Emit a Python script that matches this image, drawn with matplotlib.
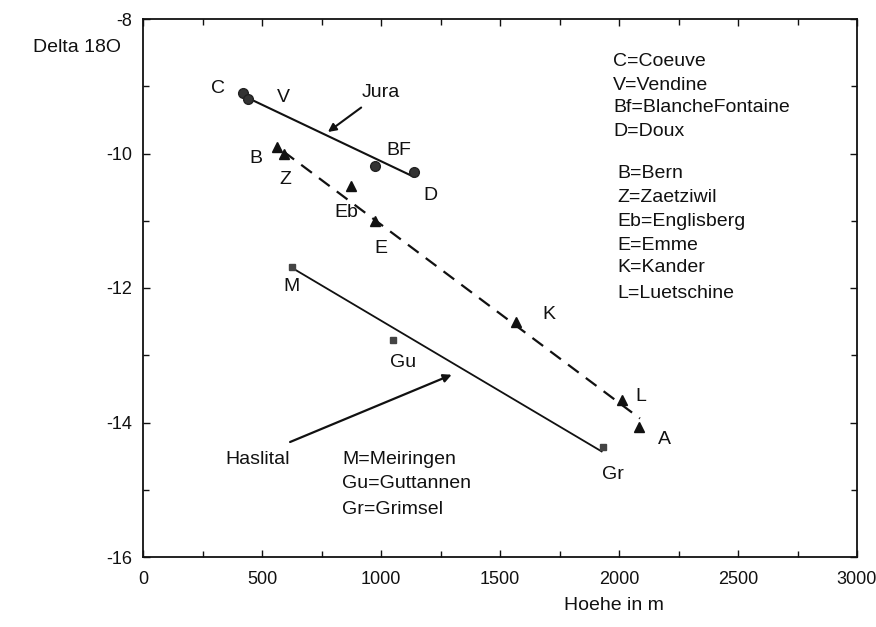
import matplotlib
matplotlib.use("Agg")
import matplotlib.pyplot as plt
from matplotlib.ticker import MultipleLocator

plt.rcParams['font.family'] = ['Liberation Sans', 'DejaVu Sans']
plt.rcParams['axes.unicode_minus'] = False

# --- Data ---
jura_x = [420, 441, 975, 1139]
jura_y = [-9.10, -9.19, -10.19, -10.28]
jura_lab = ['C', 'V', 'BF', 'D']
jura_fit_x = [438, 1134]
jura_fit_y = [-9.17, -10.34]

mittel_x = [562, 592, 873, 975, 1567, 2011, 2084]
mittel_y = [-9.91, -10.00, -10.49, -11.00, -12.51, -13.67, -14.06]
mittel_lab = ['B', 'Z', 'Eb', 'E', 'K', 'L', 'A']
mittel_fit_x = [590, 2088]
mittel_fit_y = [-9.97, -13.94]

hasli_x = [625, 1049, 1934]
hasli_y = [-11.69, -12.77, -14.37]
hasli_lab = ['M', 'Gu', 'Gr']
hasli_fit_x = [626, 1927]
hasli_fit_y = [-11.70, -14.43]

# label positions (data coordinates)
jura_lab_pos = [(316, -9.03), (590, -9.16), (1073, -9.95), (1206, -10.63)]
mittel_lab_pos = [(475, -10.08), (600, -10.38), (856, -10.88), (999, -11.41),
                  (1704, -12.40), (2092, -13.62), (2191, -14.25)]
hasli_lab_pos = [(622, -11.98), (1091, -13.11), (1975, -14.78)]

key_top = ['C=Coeuve', 'V=Vendine', 'Bf=BlancheFontaine', 'D=Doux']
key_mid = ['B=Bern', 'Z=Zaetziwil', 'Eb=Englisberg', 'E=Emme', 'K=Kander', 'L=Luetschine']
key_low = ['M=Meiringen', 'Gu=Guttannen', 'Gr=Grimsel']

W, H = 876, 627
fig = plt.figure(figsize=(W / 100, H / 100), dpi=100)
ax = fig.add_axes([143 / W, 1 - 557 / H, (857 - 143) / W, (557 - 19) / H])

ink = '#111111'
fs = 14

ax.plot(jura_fit_x, jura_fit_y, '-', color=ink, lw=1.5)
ax.plot(mittel_fit_x, mittel_fit_y, '--', color=ink, lw=1.6, dashes=(6, 4))
ax.plot(hasli_fit_x, hasli_fit_y, '-', color=ink, lw=1.3)

ax.plot(jura_x, jura_y, 'o', ms=7, color='#333333', mec='#222222')
ax.plot(mittel_x, mittel_y, '^', ms=7, color='#111111')
ax.plot(hasli_x, hasli_y, 's', ms=5, color='#444444')

for lab, (x, y) in zip(jura_lab, jura_lab_pos):
    ax.text(x, y, lab, fontsize=fs, ha='center', va='center', color=ink)
for lab, (x, y) in zip(mittel_lab, mittel_lab_pos):
    ax.text(x, y, lab, fontsize=fs, ha='center', va='center', color=ink)
for lab, (x, y) in zip(hasli_lab, hasli_lab_pos):
    ax.text(x, y, lab, fontsize=fs, ha='center', va='center', color=ink)

# annotations
ax.annotate('Jura', xy=(777, -9.68), xytext=(1000, -9.10), fontsize=fs,
            ha='center', va='center', color=ink,
            arrowprops=dict(arrowstyle='-|>', color=ink, lw=1.5,
                            mutation_scale=12, shrinkA=4, shrinkB=0))
ax.annotate('', xy=(1297, -13.29), xytext=(618, -14.29),
            arrowprops=dict(arrowstyle='-|>', color=ink, lw=1.6,
                            mutation_scale=12, shrinkA=0, shrinkB=0))
ax.text(618, -14.55, 'Haslital', fontsize=fs, ha='right', va='center', color=ink)

def px2data(px, py):
    return (px - 143) / 714 * 3000, -8 - (py - 19) / 67.25

top_y = [61, 85, 108, 132]
for s, py in zip(key_top, top_y):
    x, y = px2data(613, py)
    ax.text(x, y, s, fontsize=fs, ha='left', va='center', color=ink)
mid_y = [174, 198, 221, 245, 268, 293]
for s, py in zip(key_mid, mid_y):
    x, y = px2data(617, py)
    ax.text(x, y, s, fontsize=fs, ha='left', va='center', color=ink)
low_y = [459, 484, 509]
for s, py in zip(key_low, low_y):
    x, y = px2data(342, py)
    ax.text(x, y, s, fontsize=fs, ha='left', va='center', color=ink)

ax.set_xlim(0, 3000)
ax.set_ylim(-16, -8)
ax.xaxis.set_major_locator(MultipleLocator(500))
ax.xaxis.set_minor_locator(MultipleLocator(250))
ax.yaxis.set_major_locator(MultipleLocator(2))
ax.yaxis.set_minor_locator(MultipleLocator(1))
ax.tick_params(which='both', direction='in', top=True, right=True,
               labelsize=13, colors=ink, width=1.0)
ax.tick_params(which='major', length=5)
ax.tick_params(which='minor', length=4)
ax.tick_params(axis='x', which='major', pad=10)
ax.tick_params(axis='y', which='major', pad=8)
for sp in ax.spines.values():
    sp.set_linewidth(1.3)
    sp.set_color(ink)

fig.text(33 / W, 1 - 47 / H, 'Delta 18O', fontsize=fs, ha='left', va='center', color=ink)
fig.text(614 / W, 1 - 605 / H, 'Hoehe in m', fontsize=fs, ha='center', va='center', color=ink)

fig.savefig('out.png', dpi=100)
